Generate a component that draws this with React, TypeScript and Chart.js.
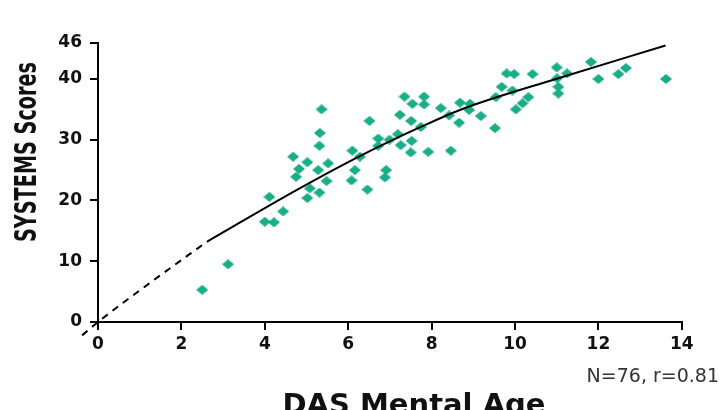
import { useEffect, useRef } from 'react';
import { Chart, registerables } from 'chart.js';

Chart.register(...registerables);

// Scatter data: DAS mental age (years) vs SYSTEMS score
const mentalAge = [
  2.5, 3.12, 4.0, 4.22, 4.44, 4.11, 5.36, 5.32, 5.31, 6.1,
  4.68, 5.02, 5.52, 4.82, 5.28, 6.16, 4.75, 5.48, 6.08, 5.08,
  5.31, 5.02, 6.28, 6.51, 6.72, 6.72, 6.99, 6.91, 6.88, 6.46,
  7.19, 7.26, 7.24, 7.51, 7.52, 7.5, 7.35, 7.54, 7.82, 7.82,
  7.74, 7.92, 8.22, 8.42, 8.46, 8.66, 8.68, 8.92, 8.9, 9.18,
  9.52, 9.54, 9.68, 9.8, 9.98, 9.94, 10.02, 10.18, 10.32, 10.42,
  11.0, 11.01, 11.04, 11.04, 11.25, 11.82, 12.0, 12.48, 12.66, 13.62,
];
const systemsScore = [
  5.3, 9.5, 16.5, 16.4, 18.2, 20.6, 35.0, 31.1, 29.0, 28.2,
  27.2, 26.3, 26.1, 25.2, 25.0, 25.0, 23.9, 23.2, 23.3, 22.0,
  21.3, 20.4, 27.2, 33.1, 30.2, 29.0, 30.0, 25.0, 23.8, 21.8,
  30.9, 29.1, 34.1, 33.1, 29.8, 27.9, 37.1, 35.9, 37.1, 35.8,
  32.1, 28.0, 35.2, 34.0, 28.2, 32.8, 36.1, 35.9, 34.9, 33.9,
  31.9, 37.0, 38.7, 40.9, 40.8, 38.1, 35.0, 36.0, 37.0, 40.8,
  41.9, 40.1, 38.7, 37.6, 40.9, 42.8, 40.0, 40.8, 41.8, 40.0,
];

// Fitted curve (solid part)
const fitAge = [2.61, 4.76, 6.28, 7.74, 8.68, 10.98, 13.61];
const fitScore = [13.2, 21.7, 27.3, 32.1, 34.9, 40.0, 45.5];

// Extrapolated part of the curve (dashed)
const extrapAge = [-0.38, 0, 1.3, 2.61];
const extrapScore = [-2.2, 0, 6.7, 13.2];

const xTicks = [0, 2, 4, 6, 8, 10, 12, 14];
const yTicks = [0, 10, 20, 30, 40, 46];

const xTitle = 'DAS Mental Age';
const yTitle = 'SYSTEMS Scores';
const note = 'N=76, r=0.81';

const pointColor = '#19ae87';

function makeDiamond(w: number, h: number, color: string) {
  const c = document.createElement('canvas');
  c.width = w;
  c.height = h;
  const g = c.getContext('2d')!;
  g.fillStyle = color;
  g.beginPath();
  g.moveTo(w / 2, 0);
  g.lineTo(w, h / 2);
  g.lineTo(w / 2, h);
  g.lineTo(0, h / 2);
  g.closePath();
  g.fill();
  return c;
}

const textPlugin = {
  id: 'textPlugin',
  afterDraw(chart: any) {
    const ctx = chart.ctx as CanvasRenderingContext2D;
    ctx.save();
    ctx.fillStyle = '#111';
    // y title
    ctx.save();
    ctx.translate(36, 152);
    ctx.rotate(-Math.PI / 2);
    ctx.font = 'bold 31px "Liberation Sans Narrow", "DejaVu Sans Condensed", "DejaVu Sans", sans-serif';
    ctx.textAlign = 'center';
    ctx.textBaseline = 'alphabetic';
    ctx.fillText(yTitle, 0, 0, 180);
    ctx.restore();
    // x title
    ctx.font = 'bold 29px "DejaVu Sans", sans-serif';
    ctx.textAlign = 'center';
    ctx.textBaseline = 'alphabetic';
    ctx.fillText(xTitle, 414, 414);
    // note
    ctx.fillStyle = '#333';
    ctx.font = '19px "DejaVu Sans", sans-serif';
    ctx.textAlign = 'right';
    ctx.fillText(note, 719, 382);
    ctx.restore();
  },
};

export default function App() {
  const ref = useRef<HTMLCanvasElement | null>(null);

  useEffect(() => {
    if (!ref.current) return;
    const diamond = makeDiamond(12, 10, pointColor);
    const tickFont = { family: '"DejaVu Sans", sans-serif', size: 17, weight: 'bold' as const };
    const chart = new Chart(ref.current, {
      type: 'scatter',
      data: {
        datasets: [
          {
            data: mentalAge.map((x, i) => ({ x, y: systemsScore[i] })),
            pointStyle: diamond as any,
            pointRadius: 6,
            backgroundColor: pointColor,
            borderColor: pointColor,
            showLine: false,
            order: 2,
          },
          {
            data: fitAge.map((x, i) => ({ x, y: fitScore[i] })),
            showLine: true,
            pointRadius: 0,
            borderColor: '#000',
            borderWidth: 2,
            cubicInterpolationMode: 'monotone',
            order: 1,
          },
          {
            data: extrapAge.map((x, i) => ({ x, y: extrapScore[i] })),
            showLine: true,
            pointRadius: 0,
            borderColor: '#000',
            borderWidth: 2,
            borderDash: [7, 6],
            cubicInterpolationMode: 'monotone',
            clip: false as any,
            order: 1,
          },
        ],
      },
      options: {
        animation: false,
        responsive: true,
        maintainAspectRatio: false,
        layout: { padding: { left: 0, right: 37.2, top: 42.5, bottom: 0 } },
        plugins: {
          legend: { display: false },
          tooltip: { enabled: false },
        },
        scales: {
          x: {
            type: 'linear',
            min: 0,
            max: 14,
            afterBuildTicks: (s: any) => {
              s.ticks = xTicks.map((v) => ({ value: v }));
            },
            afterFit: (s: any) => {
              s.height = 88;
            },
            ticks: { font: tickFont, color: '#111', padding: 4 },
            grid: { drawOnChartArea: false, tickLength: 8, color: '#000', lineWidth: 2 },
            border: { color: '#000', width: 2 },
          },
          y: {
            type: 'linear',
            min: 0,
            max: 46,
            afterBuildTicks: (s: any) => {
              s.ticks = yTicks.map((v) => ({ value: v }));
            },
            afterFit: (s: any) => {
              s.width = 98;
            },
            ticks: { font: tickFont, color: '#111', padding: 8 },
            grid: { drawOnChartArea: false, tickLength: 8, color: '#000', lineWidth: 2 },
            border: { color: '#000', width: 2 },
          },
        },
      },
      plugins: [textPlugin],
    });
    return () => chart.destroy();
  }, []);

  return (
    <div style={{ position: 'fixed', left: 0, top: 0, width: 719, height: 410, background: '#fff' }}>
      <canvas ref={ref} />
    </div>
  );
}
